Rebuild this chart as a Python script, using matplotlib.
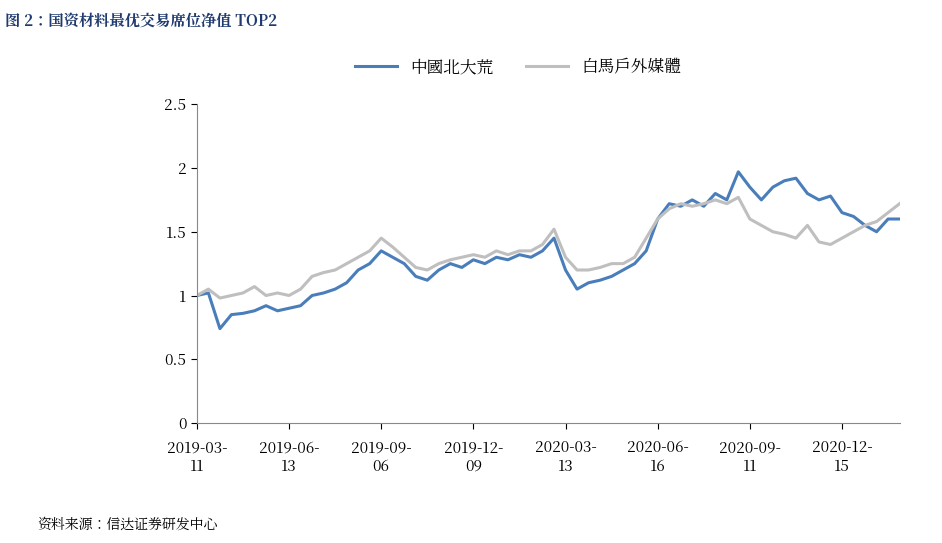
import matplotlib
matplotlib.use('Agg')
import matplotlib.pyplot as plt
from matplotlib import font_manager

cjk = [f.name for f in font_manager.fontManager.ttflist if 'CJK' in f.name]
plt.rcParams['font.family'] = (cjk[:1] if cjk else []) + ['DejaVu Sans']

tick_labels = ['2019-03-\n11', '2019-06-\n13', '2019-09-\n06', '2019-12-\n09',
               '2020-03-\n13', '2020-06-\n16', '2020-09-\n11', '2020-12-\n15']

beidahuang = [1.0, 1.02, 0.74, 0.85, 0.86, 0.88, 0.92, 0.88,
              0.9, 0.92, 1.0, 1.02, 1.05, 1.1, 1.2, 1.25,
              1.35, 1.3, 1.25, 1.15, 1.12, 1.2, 1.25, 1.22,
              1.28, 1.25, 1.3, 1.28, 1.32, 1.3, 1.35, 1.45,
              1.2, 1.05, 1.1, 1.12, 1.15, 1.2, 1.25, 1.35,
              1.6, 1.72, 1.7, 1.75, 1.7, 1.8, 1.75, 1.97,
              1.85, 1.75, 1.85, 1.9, 1.92, 1.8, 1.75, 1.78,
              1.65, 1.62, 1.55, 1.5, 1.6, 1.6]
baima = [1.0, 1.05, 0.98, 1.0, 1.02, 1.07, 1.0, 1.02,
         1.0, 1.05, 1.15, 1.18, 1.2, 1.25, 1.3, 1.35,
         1.45, 1.38, 1.3, 1.22, 1.2, 1.25, 1.28, 1.3,
         1.32, 1.3, 1.35, 1.32, 1.35, 1.35, 1.4, 1.52,
         1.3, 1.2, 1.2, 1.22, 1.25, 1.25, 1.3, 1.45,
         1.6, 1.68, 1.72, 1.7, 1.72, 1.75, 1.72, 1.77,
         1.6, 1.55, 1.5, 1.48, 1.45, 1.55, 1.42, 1.4,
         1.45, 1.5, 1.55, 1.58, 1.65, 1.72]

fig = plt.figure(figsize=(9.42, 5.43), dpi=100)
ax = fig.add_axes([0.209, 0.221, 0.746, 0.587])
x = range(len(beidahuang))
ax.plot(x, beidahuang, color='#4a7ebb', lw=2.2, label='中國北大荒')
ax.plot(x, baima, color='#bfbfbf', lw=2.2, label='白馬戶外媒體')

ax.set_xlim(0, 61)
ax.set_ylim(0, 2.5)
ax.set_yticks([0, 0.5, 1, 1.5, 2, 2.5])
ax.set_yticklabels(['0', '0.5', '1', '1.5', '2', '2.5'])
ax.set_xticks(range(0, 64, 8))
ax.set_xticklabels(tick_labels)
ax.tick_params(labelsize=11, length=4)
ax.tick_params(axis='x', pad=8)
for s in ['top', 'right']:
    ax.spines[s].set_visible(False)
for s in ['left', 'bottom']:
    ax.spines[s].set_color('#888888')

fig.legend(loc='upper center', bbox_to_anchor=(0.55, 0.92), ncol=2, frameon=False,
           fontsize=12, handlelength=2.5, columnspacing=2)
fig.text(0.005, 0.975, '图 2：国资材料最优交易席位净值 TOP2', fontsize=11,
         fontweight='bold', color='#1f3a6e', va='top')
fig.text(0.04, 0.02, '资料来源：信达证券研发中心', fontsize=10, style='italic', va='bottom')

fig.savefig('out.png', dpi=100)
